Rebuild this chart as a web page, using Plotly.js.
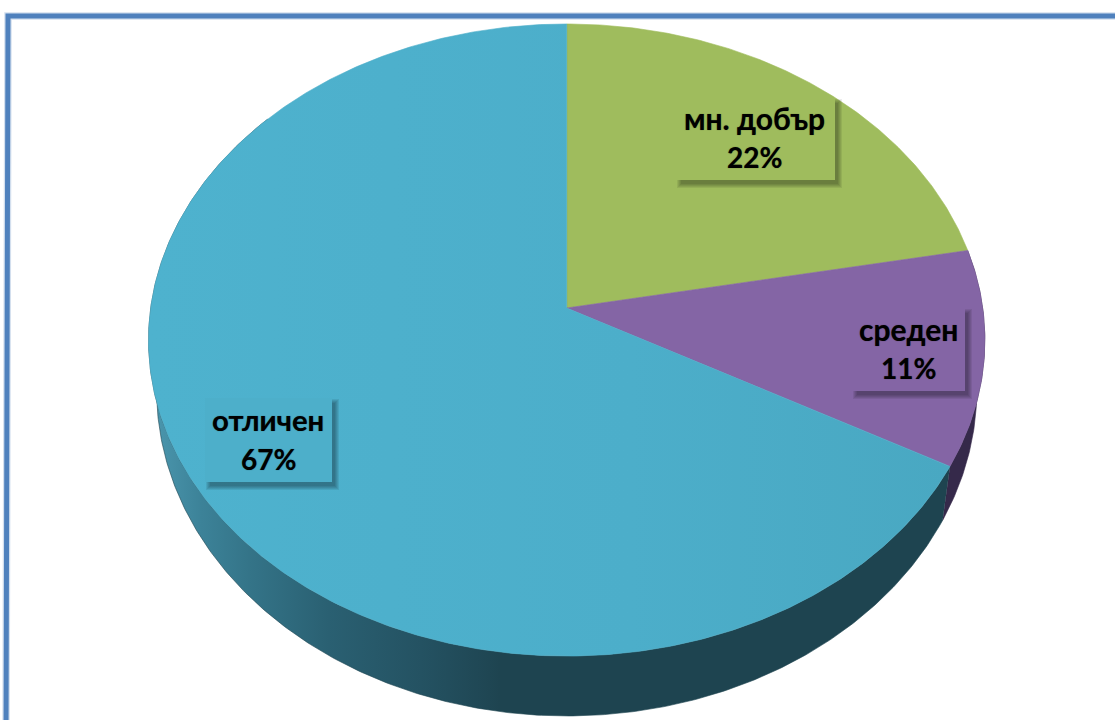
<!DOCTYPE html>
<html>
<head>
<meta charset="utf-8">
<script src="https://cdn.plot.ly/plotly-3.0.0.min.js"></script>
<style>html,body{margin:0;padding:0;background:#fff;overflow:hidden}#chart{width:1115px;height:720px}</style>
</head>
<body>
<div id="chart"></div>
<script>
// Data
const categories = ["мн. добър", "среден", "отличен"];
const values = [22, 11, 67];

// Styles
const faceColors = ["#9FBC5D", "#8465A5", "#4DAFCA"];
const frameColor = "#4F81BD";

// Perspective projection of the pie disc (top rim and lower rim)
const persp = 0.1013;
const topRim = {cx: 566.7, cy: 308, a: 312.8, b: 416};
const lowRim = {cx: 566.7, cy: 357, a: 322.6, b: 408};

function project(deg, g) {
  const t = deg * Math.PI / 180;
  const d = 1 + persp * Math.cos(t);
  return [g.cx + g.b * Math.sin(t) / d, g.cy - g.a * Math.cos(t) / d];
}
function arc(from, to, g) {
  const n = Math.max(2, Math.ceil(Math.abs(to - from) * 2));
  const pts = [];
  for (let i = 0; i <= n; i++) pts.push(project(from + (to - from) * i / n, g));
  return pts;
}
function polyTrace(pts, color, gradient) {
  const tr = {
    type: "scatter", mode: "lines", fill: "toself",
    x: pts.map(p => p[0]), y: pts.map(p => p[1]),
    line: {color: color, width: 0.6}, fillcolor: color,
    hoverinfo: "skip", showlegend: false
  };
  if (gradient) tr.fillgradient = gradient;
  return tr;
}

const total = values.reduce((a, b) => a + b, 0);
const angles = [0];
values.forEach(v => angles.push(angles[angles.length - 1] + v / total * 360));

const traces = [];
// Side walls (only the purple and blue slices show them)
traces.push(polyTrace(
  arc(angles[1], angles[2], topRim).concat(arc(angles[2], angles[1], lowRim)), "#35294A"));
traces.push(polyTrace(
  arc(angles[2], 310, topRim).concat(arc(310, angles[2], lowRim)), "#1E4450",
  {type: "horizontal", start: 157, stop: 500, colorscale: [
    [0, "#4A95AC"], [0.13, "#3C8298"], [0.27, "#347488"], [0.5, "#2A6072"],
    [0.77, "#245262"], [0.97, "#1F4653"], [1, "#1E4450"]]}));
// Top faces
values.forEach((v, i) => {
  const pts = [[topRim.cx, topRim.cy]].concat(arc(angles[i], angles[i + 1], topRim));
  pts.push([topRim.cx, topRim.cy]);
  const grad = i === 2 ? {type: "horizontal", start: 150, stop: 950, colorscale: [
    [0, "#4EB2CE"], [0.6, "#4CAECA"], [1, "#49A8C2"]]} : null;
  traces.push(polyTrace(pts, faceColors[i], grad));
});

// Label boxes with soft shadows; ty1/ty2 are the two text line centres
const boxes = [
  {x0: 676, y0: 98, x1: 835, y1: 180, tx: 754, ty1: 117.5, ty2: 156.5, size: 30},
  {x0: 852, y0: 308, x1: 965, y1: 391, tx: 908, ty1: 328.5, ty2: 367.5, size: 30},
  {x0: 205, y0: 398, x1: 332, y1: 482, tx: 268, ty1: 419.5, ty2: 458.5, size: 29.3}
];
const shapes = [
  {type: "path", layer: "below", path: "M 6 740 L 8 16 L 1130 16",
   line: {color: "#D3DFEE", width: 7.5}},
  {type: "path", layer: "below", path: "M 6 740 L 8 16 L 1130 16",
   line: {color: frameColor, width: 5}}
];
const annotations = [];
const labelFont = (size) => ({family: "Lato, 'Noto Sans', sans-serif", size: size, color: "#000",
                              shadow: "0 0 1px rgba(0,0,0,0.55)"});
boxes.forEach((b, i) => {
  [4, 3, 2, 1, 0].forEach(g => {
    shapes.push({type: "rect", layer: "above", xref: "x", yref: "y",
      x0: b.x0 + 5 - g, y0: b.y0 + 5 - g, x1: b.x1 + 3 + g, y1: b.y1 + 4 + g,
      fillcolor: "rgba(0,0,0,0.075)", line: {width: 0}});
  });
  shapes.push({type: "rect", layer: "above", xref: "x", yref: "y",
    x0: b.x0, y0: b.y0, x1: b.x1, y1: b.y1,
    fillcolor: faceColors[i], line: {width: 0}});
  annotations.push({
    x: b.tx, y: b.ty1, xref: "x", yref: "y", showarrow: false,
    xanchor: "center", yanchor: "middle", align: "center",
    text: "<b>" + categories[i] + "</b>", font: labelFont(b.size)
  });
  annotations.push({
    x: b.tx, y: b.ty2, xref: "x", yref: "y", showarrow: false,
    xanchor: "center", yanchor: "middle", align: "center",
    text: "<b>" + values[i] + "%</b>", font: labelFont(28)
  });
});

Plotly.newPlot("chart", traces, {
  width: 1115, height: 720,
  margin: {l: 0, r: 0, t: 0, b: 0, pad: 0},
  paper_bgcolor: "#fff", plot_bgcolor: "#fff",
  showlegend: false,
  xaxis: {range: [0, 1115], visible: false, fixedrange: true},
  yaxis: {range: [720, 0], visible: false, fixedrange: true},
  shapes: shapes, annotations: annotations
}, {displayModeBar: false, staticPlot: true});
</script>
</body>
</html>
